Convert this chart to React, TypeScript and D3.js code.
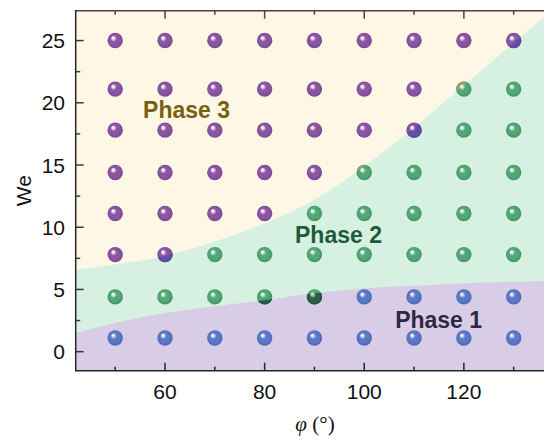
import * as React from "react";
import * as d3 from "d3";

// grid of simulated cases
const phiValues = [50, 60, 70, 80, 90, 100, 110, 120, 130];
const weValues = [1.1, 4.4, 7.8, 11.1, 14.4, 17.8, 21.1, 25];
// phase of each case: one string per We row (bottom to top), one char per phi column
const phaseRows = [
    "111111111",
    "222221111",
    "332222222",
    "333322222",
    "333332222",
    "333333322",
    "333333322",
    "333333333",
];

// phase boundaries
const boundaryPhi = [42, 50, 60, 70, 80, 90, 100, 110, 120, 130, 137];
const upperBoundary = [6.6, 7.0, 7.7, 8.85, 10.3, 12.2, 14.9, 18.0, 21.4, 24.8, 27.2];
const lowerBoundary = [1.5, 2.3, 3.1, 3.65, 4.15, 4.7, 5.1, 5.3, 5.5, 5.6, 5.68];

const xTicks = [60, 80, 100, 120];
const xMinorTicks = [50, 70, 90, 110, 130];
const yTicks = [0, 5, 10, 15, 20, 25];
const yMinorTicks = [2.5, 7.5, 12.5, 17.5, 22.5];

const phaseNames = ["Phase 1", "Phase 2", "Phase 3"];

const ballColors: { [k: string]: [string, string, string] } = {
    "1": ["#f2f4fc", "#5b78c6", "#4d69b5"],
    "2": ["#eef8f2", "#51a775", "#439365"],
    "3": ["#fbf0f6", "#8a55a2", "#7a4893"],
    // tinted parts where a ball crosses into another region
    "3in2": ["#eeeaf8", "#6150ab", "#55469c"],
    "2in3": ["#f8f6e2", "#92a766", "#84985a"],
    "2in1": ["#c4d6cc", "#2b5f49", "#24523f"],
};

const regionFill = { "1": "#d9cce7", "2": "#d6f1e2", "3": "#fef7e6" };
const labelColor = { "1": "#2d2a3f", "2": "#1f5b3b", "3": "#7a5e12" };

export default function App() {
    const width = 544;
    const height = 442;

    const x = d3.scaleLinear().domain([42.07, 139.3]).range([75.7, 560]);
    const y = d3.scaleLinear().domain([-1.53, 27.4]).range([370.7, 10.7]);
    const [yMin, yMax] = y.domain();

    const idx = boundaryPhi.map((_, i) => i);
    const area = (lo: (i: number) => number, hi: (i: number) => number) =>
        d3.area<number>()
            .x(i => x(boundaryPhi[i]))
            .y0(i => y(lo(i)))
            .y1(i => y(hi(i)))
            .curve(d3.curveMonotoneX)(idx) || "";

    const region1 = area(() => yMin, i => lowerBoundary[i]);
    const region2 = area(i => lowerBoundary[i], i => upperBoundary[i]);
    const region3 = area(i => upperBoundary[i], () => yMax);
    const belowUpper = area(() => yMin, i => upperBoundary[i]);

    const points: { phi: number, we: number, phase: string }[] = [];
    weValues.forEach((we, r) => {
        phiValues.forEach((phi, c) => {
            points.push({ phi, we, phase: phaseRows[r][c] });
        });
    });

    const r = 7.7;

    const font = "'Liberation Sans', Arial, Helvetica, sans-serif";
    const [x0, x1] = [x.range()[0], width + 10];
    const [yb, yt] = y.range();

    const labels = [
        { phase: "3", phi: 55.6, we: 18.8 },
        { phase: "2", phi: 86.1, we: 8.75 },
        { phase: "1", phi: 106.2, we: 1.9 },
    ];

    const ball = (p: { phi: number, we: number }, key: string, grad: string) =>
        <circle key={key} cx={x(p.phi)} cy={y(p.we)} r={r} fill={`url(#ball-${grad})`} />;

    return <svg width={width} height={height} style={{ position: "absolute", left: 0, top: 0 }}>
        <defs>
            {Object.keys(ballColors).map(k => {
                const [hl, base, dark] = ballColors[k];
                return <radialGradient key={k} id={`ball-${k}`} cx="50%" cy="50%" r="50%" fx="34%" fy="30%">
                    <stop offset="0" stopColor={hl} />
                    <stop offset="0.12" stopColor={hl} stopOpacity={0.9} />
                    <stop offset="0.4" stopColor={base} />
                    <stop offset="0.7" stopColor={base} />
                    <stop offset="1" stopColor={dark} />
                </radialGradient>;
            })}
            <clipPath id="plot-clip"><rect x={x0} y={yt} width={x1 - x0} height={yb - yt} /></clipPath>
            <clipPath id="clip-r1"><path d={region1} /></clipPath>
            <clipPath id="clip-r2"><path d={region2} /></clipPath>
            <clipPath id="clip-r3"><path d={region3} /></clipPath>
        </defs>

        <g clipPath="url(#plot-clip)">
            <rect x={x0} y={yt} width={x1 - x0} height={yb - yt} fill={regionFill["3"]} />
            <path d={belowUpper} fill={regionFill["2"]} />
            <path d={region1} fill={regionFill["1"]} />
        </g>

        <g>
            {points.map((p, i) => ball(p, `b${i}`, p.phase))}
        </g>
        {/* parts of balls lying in a neighbouring region */}
        <g clipPath="url(#clip-r2)">
            {points.filter(p => p.phase === "3").map((p, i) => ball(p, `o32${i}`, "3in2"))}
        </g>
        <g clipPath="url(#clip-r3)">
            {points.filter(p => p.phase === "2").map((p, i) => ball(p, `o23${i}`, "2in3"))}
        </g>
        <g clipPath="url(#clip-r1)">
            {points.filter(p => p.phase === "2").map((p, i) => ball(p, `o21${i}`, "2in1"))}
        </g>

        {labels.map(l =>
            <text key={l.phase} x={x(l.phi)} y={y(l.we)} fill={labelColor[l.phase]}
                fontFamily={font} fontWeight="bold" fontSize={23}>
                {phaseNames[+l.phase - 1]}
            </text>)}

        {/* axes */}
        <g stroke="#262626" strokeWidth={1.5} fill="none">
            <line x1={x0} x2={x1} y1={yb} y2={yb} />
            <line x1={x0} x2={x1} y1={yt} y2={yt} stroke="#4a4538" />
            <line x1={x0} x2={x0} y1={yt - 0.75} y2={yb + 0.75} />
            {xTicks.map(t => <g key={`xt${t}`}>
                <line x1={x(t)} x2={x(t)} y1={yb} y2={yb - 8} />
                <line x1={x(t)} x2={x(t)} y1={yt} y2={yt + 8} stroke="#4a4538" />
            </g>)}
            {xMinorTicks.map(t => <g key={`xm${t}`}>
                <line x1={x(t)} x2={x(t)} y1={yb} y2={yb - 4} />
                <line x1={x(t)} x2={x(t)} y1={yt} y2={yt + 4} stroke="#4a4538" />
            </g>)}
            {yTicks.map(t => <line key={`yt${t}`} x1={x0} x2={x0 + 8} y1={y(t)} y2={y(t)} stroke="#3a3a3a" />)}
            {yMinorTicks.map(t => <line key={`ym${t}`} x1={x0} x2={x0 + 4.5} y1={y(t)} y2={y(t)} stroke="#3a3a3a" />)}
        </g>

        <g fontFamily={font} fontSize={21} fill="#111">
            {xTicks.map(t => <text key={`xl${t}`} x={x(t)} y={399} textAnchor="middle">{t}</text>)}
            {yTicks.map(t => <text key={`yl${t}`} x={65} y={y(t)} dy="0.36em" textAnchor="end">{t}</text>)}
            <text transform={`translate(31,${(yt + yb) / 2}) rotate(-90)`} textAnchor="middle">We</text>
        </g>
        <text x={315} y={431} textAnchor="middle" fontFamily="'Liberation Serif', 'Times New Roman', serif" fontSize={21} fill="#111">
            <tspan fontStyle="italic">φ</tspan> (°)
        </text>
    </svg>;
}
